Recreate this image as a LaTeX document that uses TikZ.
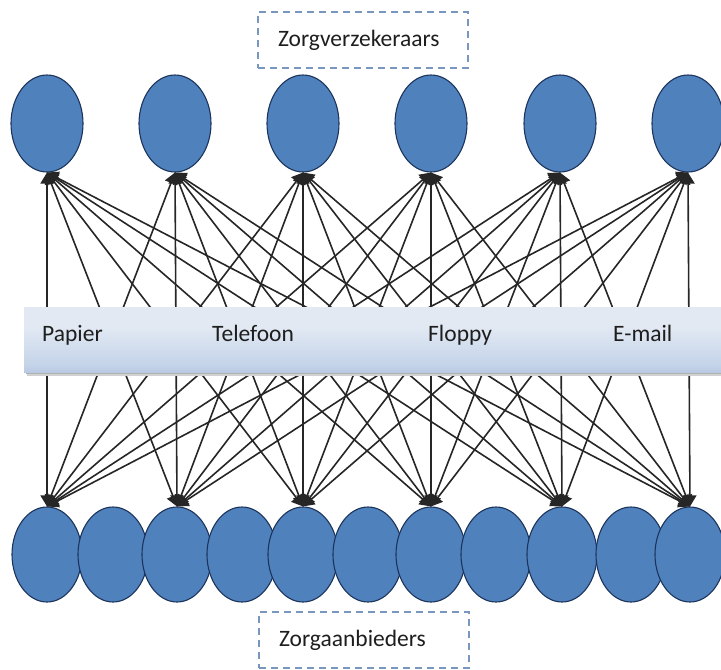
\documentclass[tikz,border=0pt]{standalone}
\usepackage{fontspec}
\setmainfont{Carlito}
\usetikzlibrary{arrows.meta,shapes.geometric}
\definecolor{ellfill}{RGB}{79,129,189}
\definecolor{elldraw}{RGB}{28,52,92}
\definecolor{dashc}{RGB}{120,150,190}
\definecolor{bandtop}{RGB}{165,186,218}
\definecolor{bandmid}{RGB}{226,233,243}
\definecolor{bandlow}{RGB}{196,211,233}
\definecolor{bandbot}{RGB}{140,166,205}
\definecolor{txt}{RGB}{30,30,30}
\pgfdeclareverticalshading{bandshade}{100bp}{color(0bp)=(bandbot); color(8bp)=(bandbot); color(30bp)=(bandlow); color(60bp)=(bandmid); color(88bp)=(bandmid); color(100bp)=(bandtop)}
\tikzset{
  topell/.style={ellipse, draw=elldraw, line width=1.1pt, fill=ellfill, minimum width=72pt, minimum height=97pt, inner sep=0pt},
  botell/.style={ellipse, draw=elldraw, line width=1.1pt, fill=ellfill, minimum width=70pt, minimum height=95pt, inner sep=0pt},
  conn/.style={draw=black!85, line width=1.6pt, {Triangle[length=11pt,width=13pt]}-{Triangle[length=11pt,width=13pt]}},
  dbox/.style={draw=dashc, line width=1.3pt, dash pattern=on 7pt off 5pt, rectangle, minimum width=210pt, minimum height=56pt, text width=170pt, inner xsep=20pt, align=left, font=\fontsize{23.5}{27}\selectfont, text=txt},
  bandlabel/.style={anchor=base west, font=\fontsize{23.5}{27}\selectfont, text=txt, inner sep=0pt}
}
\begin{document}
\begin{tikzpicture}[x=1pt,y=-1pt]
\useasboundingbox (0,0) rectangle (721,670);
% top ellipses
\foreach \i/\x in {1/47,2/175,3/303,4/431,5/560,6/688}{
  \node[topell] (t\i) at (\x,123.5) {};
}
% bottom ellipses
\foreach \j/\x in {1/47,2/113,3/177,4/242,5/303,6/368,7/431,8/496,9/562,10/631,11/690}{
  \node[botell] (b\j) at (\x,554.5) {};
}
% connectors
\foreach \i in {1,...,6}{
  \foreach \j in {1,3,5,7,9,11}{
    \draw[conn] (t\i.south) -- (b\j.north);
  }
}
% band
\fill[black!18] (27,311) rectangle (725,376);
\fill[black!30] (26,310) rectangle (725,374);
\node[rectangle, shading=bandshade, minimum width=699pt, minimum height=65pt, inner sep=0pt, anchor=north west] (band) at (24,307) {};
\node[bandlabel] (papier) at (42,341) {Papier};
\node[bandlabel] (telefoon) at (212,341) {Telefoon};
\node[bandlabel] (floppy) at (428,341) {Floppy};
\node[bandlabel] (email) at (613,341) {E-mail};
% dashed boxes
\node[dbox] (zv) at (363,40) {Zorgverzekeraars};
\node[dbox] (za) at (364,640) {Zorgaanbieders};
\end{tikzpicture}
\end{document}
